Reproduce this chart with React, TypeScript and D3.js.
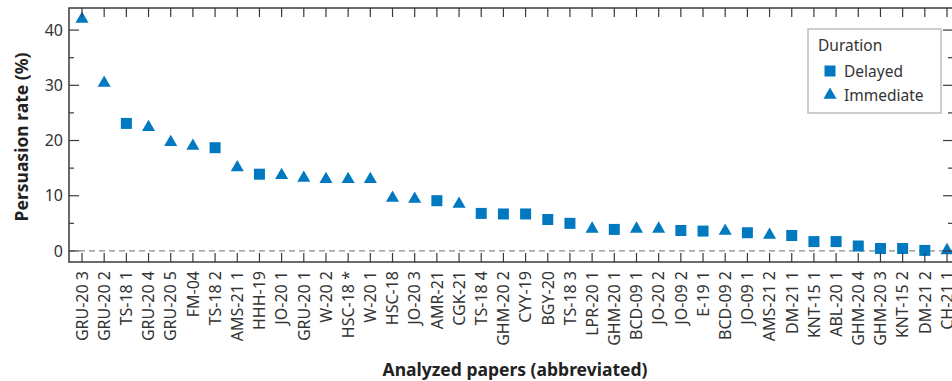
import React, { useRef, useEffect } from 'react';
import * as d3 from 'd3';

// papers, ordered by persuasion rate
const papers = [
  'GRU-20 3', 'GRU-20 2', 'TS-18 1', 'GRU-20 4', 'GRU-20 5', 'FM-04', 'TS-18 2', 'AMS-21 1',
  'HHH-19', 'JO-20 1', 'GRU-20 1', 'W-20 2', 'HSC-18 *', 'W-20 1', 'HSC-18', 'JO-20 3',
  'AMR-21', 'CGK-21', 'TS-18 4', 'GHM-20 2', 'CYY-19', 'BGY-20', 'TS-18 3', 'LPR-20 1',
  'GHM-20 1', 'BCD-09 1', 'JO-20 2', 'JO-09 2', 'E-19 1', 'BCD-09 2', 'JO-09 1', 'AMS-21 2',
  'DM-21 1', 'KNT-15 1', 'ABL-20 1', 'GHM-20 4', 'GHM-20 3', 'KNT-15 2', 'DM-21 2', 'CH-21 1',
];

const rates = [
  42, 30.4, 23.1, 22.4, 19.7, 19, 18.7, 15.1,
  13.9, 13.7, 13.2, 13, 13, 13, 9.6, 9.4,
  9.1, 8.5, 6.8, 6.7, 6.7, 5.7, 5.0, 4.0,
  3.9, 4.0, 4.0, 3.7, 3.6, 3.6, 3.3, 2.9,
  2.8, 1.7, 1.7, 0.9, 0.45, 0.45, 0.1, 0.1,
];

// D = delayed, I = immediate
const durations = [
  'I', 'I', 'D', 'I', 'I', 'I', 'D', 'I',
  'D', 'I', 'I', 'I', 'I', 'I', 'I', 'I',
  'D', 'I', 'D', 'D', 'D', 'D', 'D', 'I',
  'D', 'I', 'I', 'D', 'D', 'I', 'D', 'I',
  'D', 'D', 'D', 'D', 'D', 'D', 'D', 'I',
];

const yTicks = [0, 10, 20, 30, 40];
const yMinorTicks = [5, 15, 25, 35];
const legendLabels = ['Delayed', 'Immediate'];

const BLUE = '#0079c1';
const AXIS = '#3a3a3a';
const FONT = '"Noto Sans", "Open Sans", sans-serif';

function App() {
  const svgRef = useRef<SVGSVGElement>(null);

  useEffect(() => {
    const svg = d3.select(svgRef.current);
    svg.selectAll('*').remove();

    const left = 69, right = 953, top = 8, bottom = 262;

    const x = d3.scalePoint<string>().domain(papers).range([82, 947]);
    const y = d3.scaleLinear().domain([-2, 44]).range([bottom, top]);

    const data = papers.map((p, i) => ({ paper: p, rate: rates[i], dur: durations[i] }));

    // zero reference line
    svg.append('line')
      .attr('x1', left).attr('x2', right)
      .attr('y1', y(0)).attr('y2', y(0))
      .attr('stroke', '#8a8a8a')
      .attr('stroke-width', 1.2)
      .attr('stroke-dasharray', '6,4');

    const square = d3.symbol().type(d3.symbolSquare).size(121);
    const triangle = d3.symbol().type(d3.symbolTriangle).size(74);

    svg.append('g')
      .selectAll('path')
      .data(data)
      .enter()
      .append('path')
      .attr('transform', d => `translate(${x(d.paper)},${y(d.rate)})`)
      .attr('d', d => (d.dur === 'D' ? square() : triangle()) as string)
      .attr('fill', BLUE);

    // frame
    svg.append('rect')
      .attr('x', left).attr('y', top)
      .attr('width', right - left).attr('height', bottom - top)
      .attr('fill', 'none')
      .attr('stroke', AXIS)
      .attr('stroke-width', 1.5);

    // x ticks (top and bottom, inward)
    const xt = svg.append('g').attr('stroke', AXIS).attr('stroke-width', 1.2);
    papers.forEach(p => {
      xt.append('line').attr('x1', x(p)!).attr('x2', x(p)!).attr('y1', bottom).attr('y2', bottom - 9);
      xt.append('line').attr('x1', x(p)!).attr('x2', x(p)!).attr('y1', top).attr('y2', top + 9);
    });

    // y ticks (left and right, inward)
    yTicks.forEach(t => {
      xt.append('line').attr('x1', left).attr('x2', left + 10).attr('y1', y(t)).attr('y2', y(t));
      xt.append('line').attr('x1', right).attr('x2', right - 10).attr('y1', y(t)).attr('y2', y(t));
    });
    yMinorTicks.forEach(t => {
      xt.append('line').attr('x1', left).attr('x2', left + 5).attr('y1', y(t)).attr('y2', y(t));
      xt.append('line').attr('x1', right).attr('x2', right - 5).attr('y1', y(t)).attr('y2', y(t));
    });

    // y tick labels
    svg.append('g')
      .selectAll('text')
      .data(yTicks)
      .enter()
      .append('text')
      .attr('x', left - 6)
      .attr('y', d => y(d))
      .attr('dy', '0.36em')
      .attr('text-anchor', 'end')
      .attr('font-family', FONT)
      .attr('font-size', 16)
      .attr('fill', '#333')
      .text(d => d);

    // x tick labels (rotated)
    svg.append('g')
      .selectAll('text')
      .data(papers)
      .enter()
      .append('text')
      .attr('transform', d => `translate(${x(d)},${bottom + 9}) rotate(-90)`)
      .attr('dy', '0.36em')
      .attr('text-anchor', 'end')
      .attr('font-family', FONT)
      .attr('font-size', 16)
      .attr('fill', '#333')
      .text(d => d);

    // axis titles
    svg.append('text')
      .attr('transform', `translate(28,${(top + bottom) / 2 + 2}) rotate(-90)`)
      .attr('text-anchor', 'middle')
      .attr('font-family', FONT)
      .attr('font-weight', 'bold')
      .attr('font-size', 17.5)
      .attr('fill', '#222')
      .text('Persuasion rate (%)');

    svg.append('text')
      .attr('x', 515)
      .attr('y', 376)
      .attr('text-anchor', 'middle')
      .attr('font-family', FONT)
      .attr('font-weight', 'bold')
      .attr('font-size', 17.5)
      .attr('fill', '#222')
      .text('Analyzed papers (abbreviated)');

    // legend
    const lg = svg.append('g').attr('transform', 'translate(808,29)');
    lg.append('rect')
      .attr('width', 133).attr('height', 84)
      .attr('fill', 'white')
      .attr('stroke', '#bdbdbd')
      .attr('stroke-width', 1.5);
    lg.append('text')
      .attr('x', 10).attr('y', 22)
      .attr('font-family', FONT).attr('font-size', 15.5).attr('fill', '#333')
      .text('Duration');
    legendLabels.forEach((label, i) => {
      const cy = 42 + i * 24;
      lg.append('path')
        .attr('transform', `translate(22,${cy})`)
        .attr('d', (i === 0 ? square() : triangle()) as string)
        .attr('fill', BLUE);
      lg.append('text')
        .attr('x', 36).attr('y', cy)
        .attr('dy', '0.36em')
        .attr('font-family', FONT).attr('font-size', 15.5).attr('fill', '#333')
        .text(label);
    });
  }, []);

  return (
    <>
      <style>{'body{margin:0}'}</style>
      <svg ref={svgRef} width={952} height={381} style={{ display: 'block' }}></svg>
    </>
  );
}

export default App;
